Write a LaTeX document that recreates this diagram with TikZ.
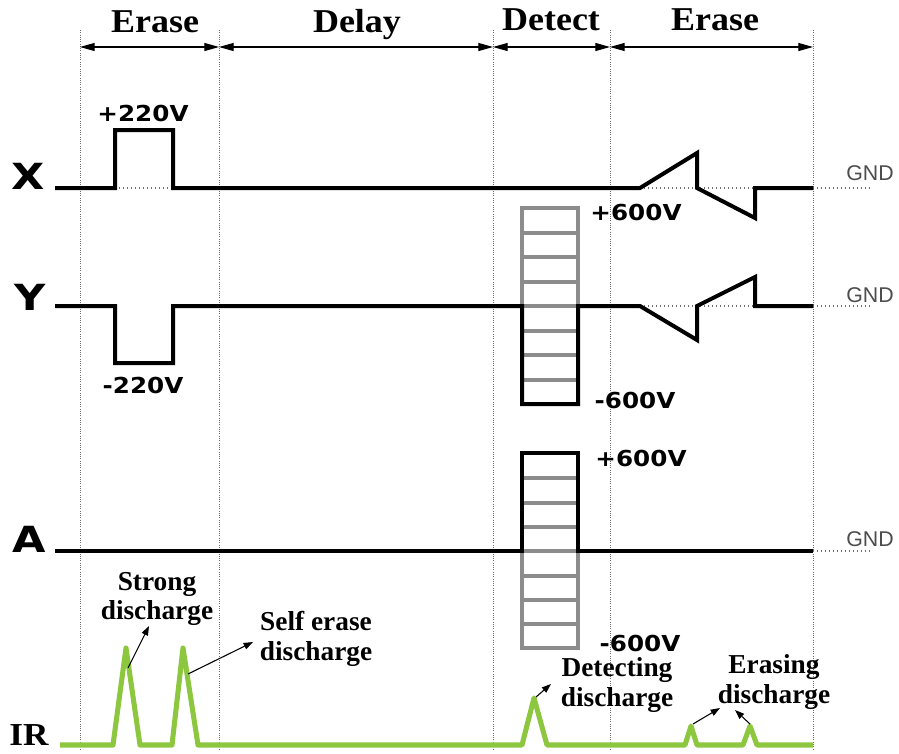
\documentclass[tikz,border=0pt]{standalone}
\usepackage{fontspec}
\setmainfont{Liberation Serif}
\newfontfamily\heavyfont{DejaVu Sans}
\newfontfamily\gndfont{Liberation Sans}
\usetikzlibrary{arrows.meta}
\definecolor{irgreen}{RGB}{141,198,63}
\definecolor{boxgray}{RGB}{140,140,140}
\definecolor{guidegray}{RGB}{110,110,110}
\tikzset{
  sig/.style={black, line width=3pt, line join=miter},
  graybar/.style={boxgray, line width=3pt},
  irline/.style={irgreen, line width=3.8pt, line join=round},
  guide/.style={guidegray, densely dotted, line width=0.7pt},
  gndline/.style={guidegray, dotted, line width=1pt},
  span/.style={line width=0.8pt, {Triangle[length=11pt,width=6pt]}-{Triangle[length=11pt,width=6pt]}},
  notearrow/.style={line width=0.8pt, -{Triangle[length=7pt,width=5pt]}},
  phase/.style={font=\bfseries\fontsize{25}{25}\selectfont, xscale=1.08, anchor=base, inner sep=0pt},
  sigletter/.style={font=\heavyfont\bfseries\fontsize{27}{27}\selectfont, xscale=1.2, inner sep=0pt},
  volt/.style={font=\heavyfont\bfseries\fontsize{16.5}{16.5}\selectfont, xscale=1.12, inner sep=0pt},
  note/.style={font=\bfseries\fontsize{20.5}{22}\selectfont, align=center, inner sep=0pt},
  gndtext/.style={font=\gndfont\fontsize{16}{16}\selectfont, text=guidegray!70!black, inner sep=0pt},
  irletter/.style={font=\bfseries\fontsize{24}{24}\selectfont, xscale=1.1, inner sep=0pt}
}
\begin{document}
\begin{tikzpicture}[x=0.75pt,y=-0.75pt]
\useasboundingbox (0,0) rectangle (899,753);

% guide lines
\foreach \gx/\gn in {80/1,219/2,493/3,610/4,813/5}{
  \coordinate (gt\gn) at (\gx,47);
  \draw[guide] (\gx,30) -- (\gx,750);
}
% phase spans
\draw[span] (gt1) -- (gt2);
\draw[span] (gt2) -- (gt3);
\draw[span] (gt3) -- (gt4);
\draw[span] (gt4) -- (gt5);
\node[phase] (ph1) at (155,32) {Erase};
\node[phase] (ph2) at (357,32) {Delay};
\node[phase] (ph3) at (551,31) {Detect};
\node[phase] (ph4) at (715,31) {Erase};

% signal names
\node[sigletter] (lx) at (28,176) {X};
\node[sigletter] (ly) at (30,297) {Y};
\node[sigletter] (la) at (29,539) {A};
\node[irletter] (lir) at (29,735) {IR};

% GND references
\draw[gndline] (115,188) -- (173,188);
\draw[gndline] (640,188) -- (755,188);
\draw[gndline] (640,306) -- (755,306);
\draw[gndline] (813,188) -- (870,188);
\draw[gndline] (813,306) -- (870,306);
\draw[gndline] (813,551) -- (870,551);
\node[gndtext] (gx) at (870,173) {GND};
\node[gndtext] (gy) at (870,295) {GND};
\node[gndtext] (ga) at (870,539) {GND};

% X waveform
\draw[sig] (55,188) -- (115,188) -- (115,130) -- (173,130) -- (173,188) -- (640,188)
  -- (697,153) -- (697,188) -- (755,218) -- (755,188) -- (813,188);
\node[volt] (vx) at (143,113) {+220V};

% Y waveform
\draw[graybar] (522,306) rectangle (578,208);
\foreach \yy in {232.5,257,281.5,330.5,355,379.5}
  \draw[graybar] (522,\yy) -- (578,\yy);
\draw[sig] (55,306) -- (115,306) -- (115,363) -- (173,363) -- (173,306) -- (522,306)
  -- (522,404) -- (578,404) -- (578,306) -- (640,306)
  -- (697,340) -- (697,306) -- (755,277) -- (755,306) -- (813,306);
\node[volt] (vy1) at (143,385) {-220V};
\node[volt] (vy2) at (636,212) {+600V};
\node[volt] (vy3) at (635,400) {-600V};

% A waveform
\draw[graybar] (522,551) rectangle (578,648);
\foreach \yy in {478,502.5,527,575.5,600,624}
  \draw[graybar] (522,\yy) -- (578,\yy);
\draw[sig] (55,551) -- (522,551) -- (522,453) -- (578,453) -- (578,551) -- (813,551);
\node[volt] (va1) at (641,458) {+600V};
\node[volt] (va2) at (640,643) {-600V};

% IR waveform
\draw[irline] (60,745) -- (113,745) -- (126,648) -- (140,745) -- (172,745) -- (183,648)
  -- (198,745) -- (522,745) -- (534,698) -- (547,745) -- (685,745) -- (691,726)
  -- (697,745) -- (743,745) -- (750,726) -- (757,745) -- (813,745);

% annotations
\node[note] (nstrong) at (157,599) {Strong\\discharge};
\node[note] (nself) at (316,639) {Self erase\\discharge};
\node[note] (ndet) at (617,685) {Detecting\\discharge};
\node[note] (nera) at (774,682) {Erasing\\discharge};
\coordinate (p1) at (128,668); \coordinate (t1) at (149,626);
\coordinate (p2) at (188,674); \coordinate (t2) at (253,642);
\coordinate (p3) at (536,697); \coordinate (t3) at (551,684);
\coordinate (p4) at (693,724); \coordinate (t4) at (720,708);
\coordinate (p5) at (750,724); \coordinate (t5) at (735,710);
\draw[notearrow] (p1) -- (t1);
\draw[notearrow] (p2) -- (t2);
\draw[notearrow] (p3) -- (t3);
\draw[notearrow] (p4) -- (t4);
\draw[notearrow] (p5) -- (t5);
\end{tikzpicture}
\end{document}
